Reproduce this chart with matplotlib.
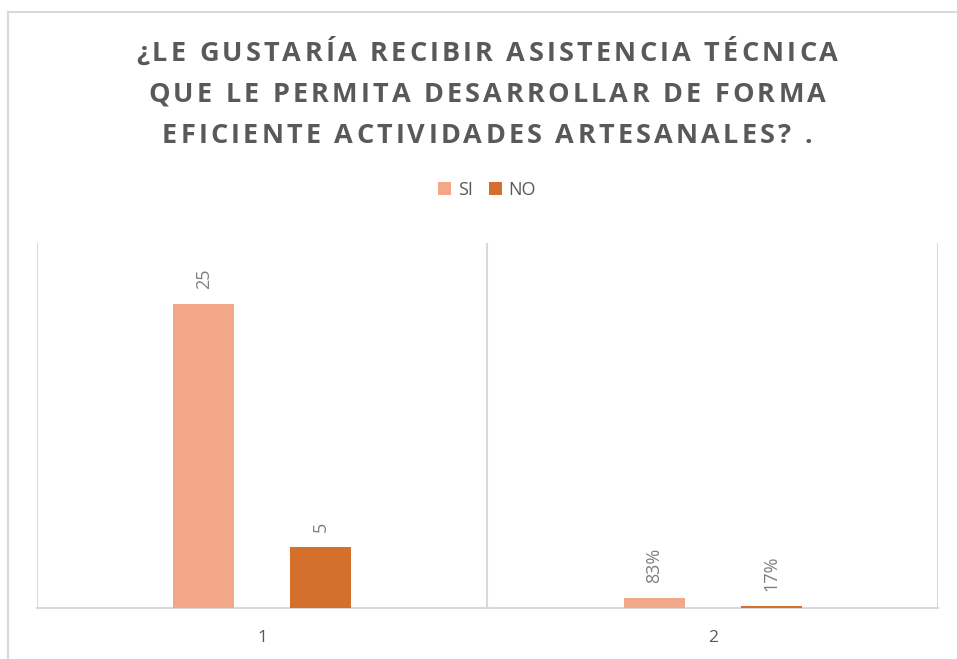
import matplotlib.pyplot as plt
import numpy as np
from matplotlib.lines import Line2D
from matplotlib.font_manager import FontProperties

categories = ['1', '2']
si_values = [25, 0.83]
no_values = [5, 0.17]
si_labels = ['25', '83%']
no_labels = ['5', '17%']

title_lines = ['¿LE GUSTARÍA RECIBIR ASISTENCIA TÉCNICA',
               'QUE LE PERMITA DESARROLLAR DE FORMA',
               'EFICIENTE ACTIVIDADES ARTESANALES? .']

si_color = '#F1A788'
no_color = '#D4702C'
text_gray = '#595959'
grid_gray = '#D9D9D9'

plt.rcParams['font.family'] = ['Open Sans', 'DejaVu Sans']

W, H = 957, 659
fig = plt.figure(figsize=(W/100, H/100), dpi=100)
ax = fig.add_axes([37/W, 1 - 608/H, (938 - 37)/W, (608 - 243)/H])

x = np.arange(1, len(categories) + 1)
w = 0.135
off = 0.13
b1 = ax.bar(x - off, si_values, w, color=si_color, label='SI', zorder=3)
b2 = ax.bar(x + off, no_values, w, color=no_color, label='NO', zorder=3)

for bars, labels in [(b1, si_labels), (b2, no_labels)]:
    for rect, lab in zip(bars, labels):
        ax.annotate(lab, (rect.get_x() + rect.get_width()/2, rect.get_height()),
                    xytext=(0, 11), textcoords='offset points', rotation=90,
                    ha='center', va='bottom', fontsize=13, color='#7F7F7F')

ax.set_xlim(0.5, 2.5)
ax.set_ylim(0, 30)
ax.set_xticks(x)
ax.set_xticklabels(categories, fontsize=12.5, color=text_gray)
ax.tick_params(axis='x', length=0, pad=16)
ax.set_yticks([])
for s in ['top', 'left', 'right']:
    ax.spines[s].set_visible(False)
ax.spines['bottom'].set_color(grid_gray)
ax.spines['bottom'].set_linewidth(1.5)
for b in [0.5, 1.5, 2.5]:
    ax.axvline(b, color=grid_gray, lw=1.5, zorder=1)

# title with letter spacing: place each character separately
renderer = fig.canvas.get_renderer()
fp = FontProperties(family=['Open Sans', 'DejaVu Sans'], weight='bold', size=19.5)
spacing = 3.2  # px added after each character


def char_w(ch):
    a = renderer.get_text_width_height_descent('H' + ch + 'H', fp, ismath=False)[0]
    b = renderer.get_text_width_height_descent('HH', fp, ismath=False)[0]
    return a - b


for line, yc in zip(title_lines, [51, 92, 133]):
    widths = [char_w(c) for c in line]
    total = sum(widths) + spacing * (len(line) - 1)
    xpos = 487 - total / 2
    for c, cw in zip(line, widths):
        if c != ' ':
            fig.text(xpos / W, 1 - yc / H, c, ha='left', va='center_baseline',
                     fontproperties=fp, color=text_gray)
        xpos += cw + spacing

fig.legend(handles=[b1, b2], loc='center', bbox_to_anchor=(487/W, 1 - 190/H),
           ncol=2, frameon=False, fontsize=13, labelcolor=text_gray,
           handlelength=0.75, handleheight=0.75, handletextpad=0.35, columnspacing=0.9)

# outer chart border (left and top edges visible)
fig.add_artist(Line2D([8/W, 8/W], [0, 1 - 12/H], color=grid_gray, lw=1.5))
fig.add_artist(Line2D([8/W, 1], [1 - 12/H, 1 - 12/H], color=grid_gray, lw=1.5))

plt.savefig('out.png', dpi=100)
